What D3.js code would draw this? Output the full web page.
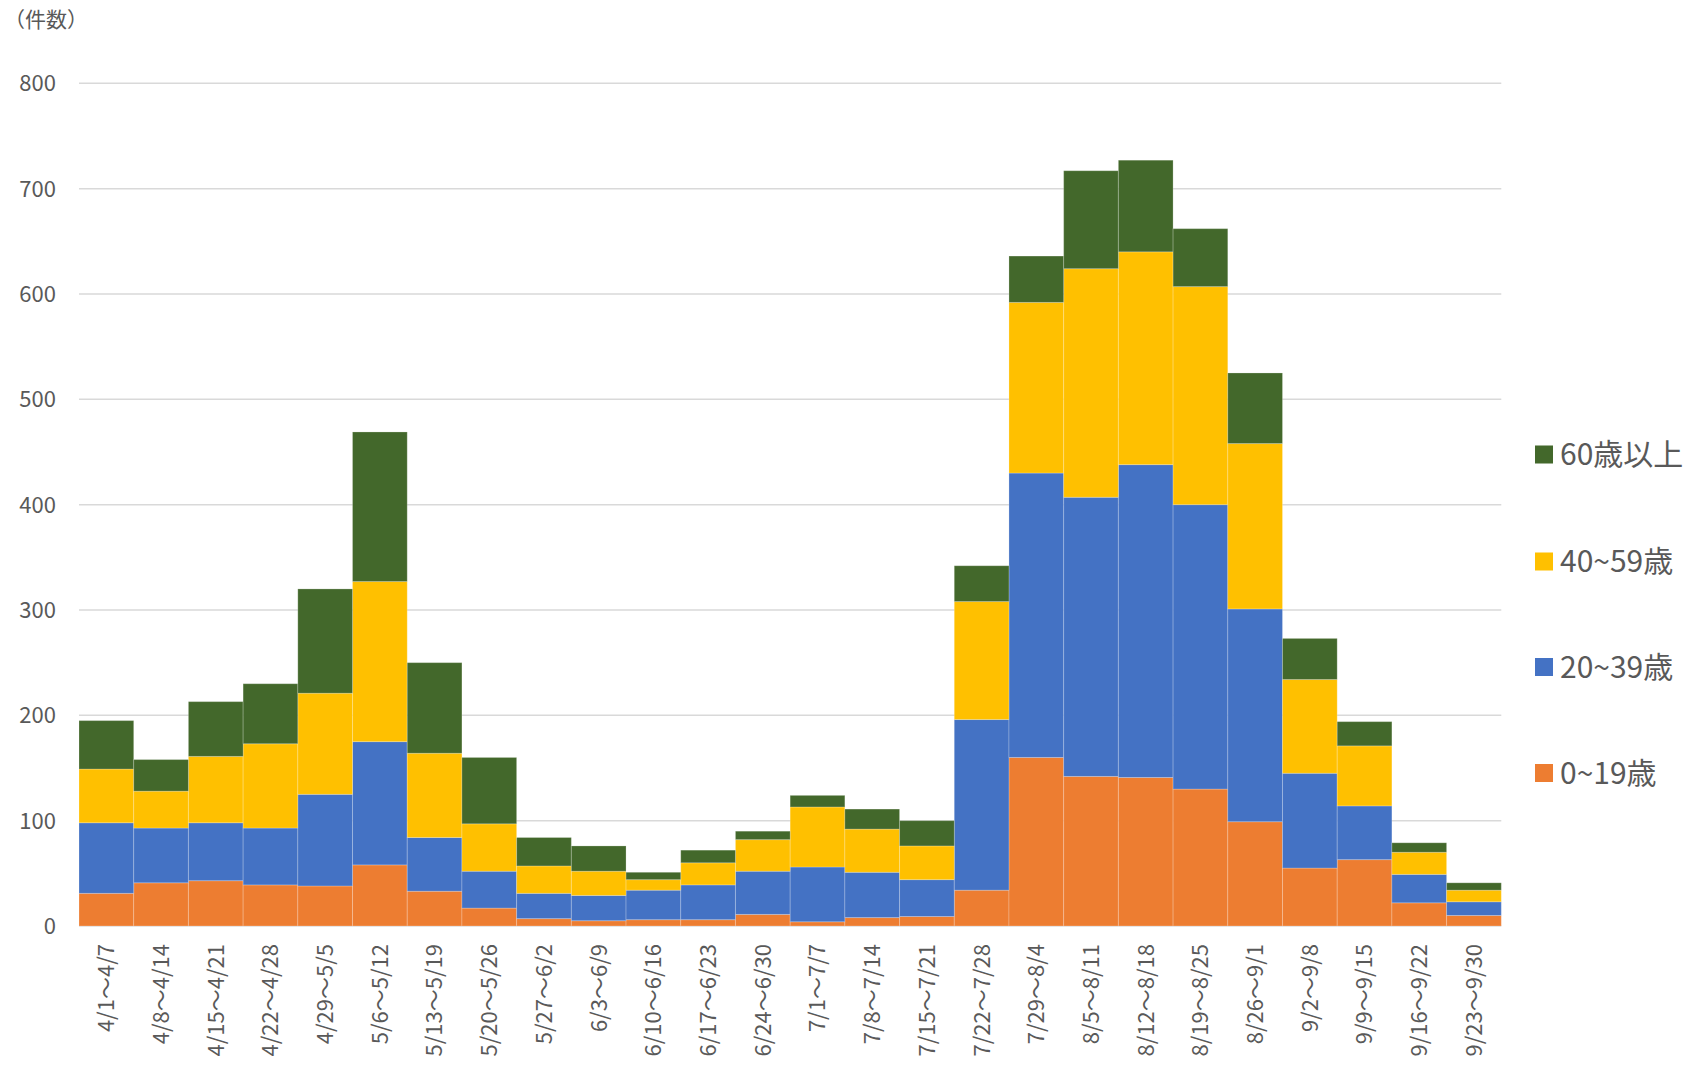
<!DOCTYPE html>
<html>
<head>
<meta charset="utf-8">
<script src="https://cdn.jsdelivr.net/npm/d3@7"></script>
<style>
  html, body { margin: 0; padding: 0; background: #fff; }
  svg { display: block; }
  text { font-family: "Noto Sans CJK JP", "Noto Sans", sans-serif; fill: #595959; }
</style>
</head>
<body>
<script>
const categories = ["4/1～4/7","4/8～4/14","4/15～4/21","4/22～4/28","4/29～5/5","5/6～5/12","5/13～5/19","5/20～5/26","5/27～6/2","6/3～6/9","6/10～6/16","6/17～6/23","6/24～6/30","7/1～7/7","7/8～7/14","7/15～7/21","7/22～7/28","7/29～8/4","8/5～8/11","8/12～8/18","8/19～8/25","8/26～9/1","9/2～9/8","9/9～9/15","9/16～9/22","9/23～9/30"];
const age0_19   = [31,41,43,39,38,58,33,17,7,5,6,6,11,4,8,9,34,160,142,141,130,99,55,63,22,10];
const age20_39  = [67,52,55,54,87,117,51,35,24,24,28,33,41,52,43,35,162,270,265,297,270,202,90,51,27,13];
const age40_59  = [51,35,63,80,96,152,80,45,26,23,10,21,30,57,41,32,112,162,217,202,207,157,89,57,21,11];
const age60plus = [46,30,52,57,99,142,86,63,27,24,7,12,8,11,19,24,34,44,93,87,55,67,39,23,9,7];
const seriesNames = ["0~19歳","20~39歳","40~59歳","60歳以上"];
const seriesColors = ["#ED7D31","#4472C4","#FFC000","#43682B"];
const yTicks = [0,100,200,300,400,500,600,700,800];
const yTitle = "（件数）";

const W = 1696, H = 1065;
const svg = d3.select("body").append("svg").attr("width", W).attr("height", H);

const x = d3.scaleBand().domain(categories).range([79, 1501.3]).padding(0);
const y = d3.scaleLinear().domain([0, 800]).range([926, 83.3]);

// gridlines
svg.append("g").selectAll("line").data(yTicks).join("line")
  .attr("x1", 79).attr("x2", 1501.3)
  .attr("y1", d => y(d)).attr("y2", d => y(d))
  .attr("stroke", "#d9d9d9").attr("stroke-width", 1.5);

// stacked data
const keys = ["a","b","c","d"];
const rows = categories.map((c, i) => ({cat: c, a: age0_19[i], b: age20_39[i], c: age40_59[i], d: age60plus[i]}));
const stacked = d3.stack().keys(keys)(rows);

svg.append("g").selectAll("g").data(stacked).join("g")
  .attr("fill", (d, i) => seriesColors[i])
  .selectAll("rect").data(d => d).join("rect")
  .attr("x", d => x(d.data.cat))
  .attr("width", x.bandwidth())
  .attr("y", d => y(d[1]))
  .attr("height", d => y(d[0]) - y(d[1]))
  .attr("stroke", "rgba(255,255,255,0.22)")
  .attr("stroke-width", 1);

// y axis labels
svg.append("g").selectAll("text").data(yTicks).join("text")
  .attr("x", 56).attr("y", d => y(d))
  .attr("dy", "0.36em")
  .attr("text-anchor", "end")
  .attr("font-size", 22)
  .text(d => d);

// y title
svg.append("text").attr("x", 4).attr("y", 19.5).attr("dy", "0.36em")
  .attr("font-size", 21).text(yTitle);

// x labels
svg.append("g").selectAll("text").data(categories).join("text")
  .attr("transform", d => `translate(${x(d) + x.bandwidth()/2},944) rotate(-90)`)
  .attr("dy", "0.36em")
  .attr("text-anchor", "end")
  .attr("font-size", 22)
  .text(d => d);

// legend
const legendOrder = [3,2,1,0];
const legendY = [454.5, 561.5, 667, 773];
const lg = svg.append("g").selectAll("g").data(legendOrder).join("g")
  .attr("transform", (d, i) => `translate(1535,${legendY[i]})`);
lg.append("rect").attr("x", 0).attr("y", -9).attr("width", 18).attr("height", 18)
  .attr("fill", d => seriesColors[d]);
lg.append("text").attr("x", 25).attr("y", 0).attr("dy", "0.36em")
  .attr("font-size", 30).text(d => seriesNames[d]);
</script>
</body>
</html>
